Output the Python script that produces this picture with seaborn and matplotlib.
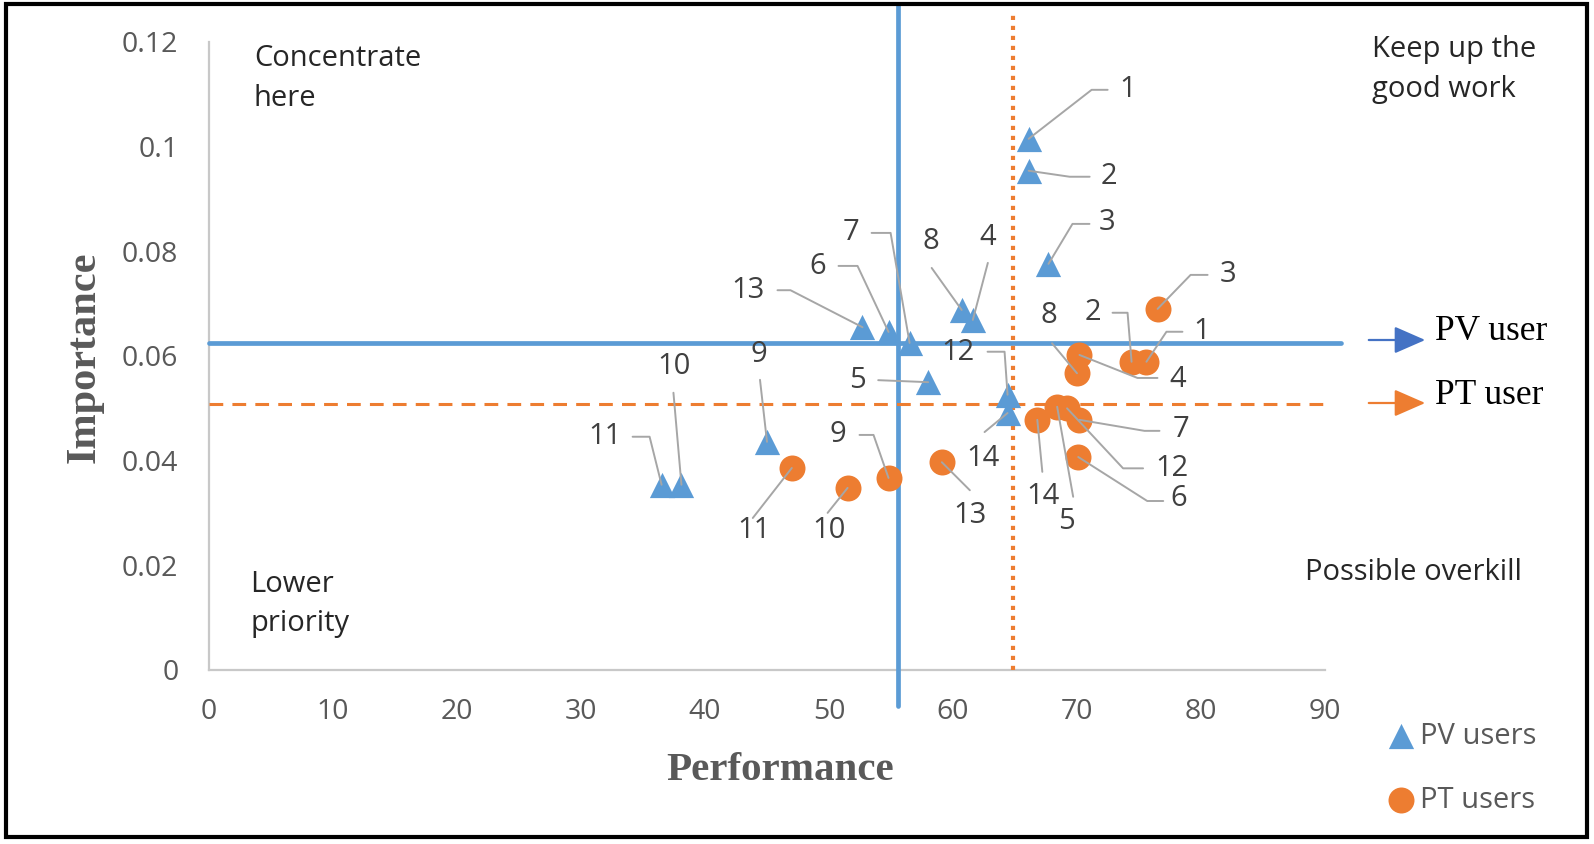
import matplotlib

matplotlib.use("Agg")

import matplotlib.pyplot as plt
import pandas as pd
import seaborn as sns
from matplotlib.patches import Rectangle

# ---- data ------------------------------------------------------------------
item_ids = [1, 2, 3, 4, 5, 6, 7, 8, 9, 10, 11, 12, 13, 14]

pv_performance = [66.1, 66.1, 67.7, 61.6, 58.0, 54.8, 56.5, 60.7, 45.0, 38.1, 36.5, 64.4, 52.7, 64.4]
pv_importance = [0.1015, 0.0954, 0.0776, 0.0669, 0.0550, 0.0646, 0.0625, 0.0688,
                 0.0436, 0.0354, 0.0354, 0.0526, 0.0655, 0.0491]

pt_performance = [75.6, 74.4, 76.5, 70.2, 68.4, 70.1, 70.2, 70.0, 54.8, 51.5, 47.0, 69.2, 59.1, 66.8]
pt_importance = [0.0589, 0.0589, 0.0690, 0.0602, 0.0503, 0.0407, 0.0478, 0.0567,
                 0.0367, 0.0348, 0.0386, 0.0500, 0.0397, 0.0478]

pv_mean_performance = 55.6
pv_mean_importance = 0.0625
pt_mean_performance = 64.8
pt_mean_importance = 0.0508

x_ticks = [0, 10, 20, 30, 40, 50, 60, 70, 80, 90]
y_ticks = [0, 0.02, 0.04, 0.06, 0.08, 0.1, 0.12]
y_tick_labels = ["0", "0.02", "0.04", "0.06", "0.08", "0.1", "0.12"]

# ---- label layout: pixel offsets from the marker (text, elbow, stub end) ---
pv_label_layout = {
    1: ((99, 49), (63, 49), (79, 49)),
    2: ((80, -6), (41, -6), (61, -6)),
    3: ((59, 41), (24, 40), (41, 40)),
    4: ((15, 82), (15, 57), None),
    5: ((-71, 2), (-50, 2), None),
    6: ((-71, 65), (-31, 66), (-50, 66)),
    7: ((-59, 110), (-19, 110), (-38, 110)),
    8: ((-31, 68), (-30, 42), None),
    9: ((-8, 87), (-7, 62), None),
    10: ((-7, 118), (-8, 92), None),
    11: ((-57, 48), (-12, 48), (-29, 48)),
    12: ((-50, 42), (-3, 43), (-20, 43)),
    13: ((-115, 37), (-72, 37), (-85, 37)),
    14: ((-25, -45), (-23, -19), None),
}
pt_label_layout = {
    1: ((55, 30), (20, 30), (36, 30)),
    2: ((-39, 49), (-4, 49), (-19, 49)),
    3: ((70, 34), (33, 34), (50, 34)),
    4: ((98, -25), (58, -23), (78, -23)),
    5: ((9, -115), (16, -90), None),
    6: ((100, -41), (69, -44), (85, -44)),
    7: ((102, -10), (65, -11), (80, -11)),
    8: ((-28, 58), (-25, 30), None),
    9: ((-51, 43), (-15, 43), (-29, 43)),
    10: ((-19, -43), (-20, -25), None),
    11: ((-38, -63), (-39, -50), None),
    12: ((105, -60), (56, -60), (76, -60)),
    13: ((28, -53), (28, -28), None),
    14: ((6, -77), (5, -52), None),
}

BLUE = "#5B9BD5"
ORANGE = "#ED7D31"
GREY_TEXT = "#595959"
W, H = 1594, 844

sns.set_style("white")
plt.rcParams["font.family"] = ["Open Sans", "DejaVu Sans"]

pv = pd.DataFrame({"item": item_ids, "performance": pv_performance, "importance": pv_importance})
pt = pd.DataFrame({"item": item_ids, "performance": pt_performance, "importance": pt_importance})

fig = plt.figure(figsize=(W / 100, H / 100), dpi=100)
ax_left, ax_bottom, ax_w, ax_h = 209, 844 - 670, 1116, 628
ax = fig.add_axes([ax_left / W, ax_bottom / H, ax_w / W, ax_h / H])

sns.scatterplot(data=pv, x="performance", y="importance", marker="^", s=330,
                color=BLUE, linewidth=0, label="PV users", ax=ax, zorder=4, clip_on=False)
sns.scatterplot(data=pt, x="performance", y="importance", marker="o", s=350,
                color=ORANGE, linewidth=0, label="PT users", ax=ax, zorder=4, clip_on=False)

ax.set_xlim(0, 90)
ax.set_ylim(0, 0.12)
ax.set_xticks(x_ticks)
ax.set_yticks(y_ticks)
ax.set_yticklabels(y_tick_labels)
ax.tick_params(axis="both", length=0, labelsize=20.5, colors=GREY_TEXT)
ax.tick_params(axis="x", pad=20)
ax.tick_params(axis="y", pad=22)
ax.set_xlabel("")
ax.set_ylabel("")
for side in ["top", "right"]:
    ax.spines[side].set_visible(False)
for side in ["left", "bottom"]:
    ax.spines[side].set_color("#C8C8C8")
    ax.spines[side].set_linewidth(1.6)

# mean reference lines
ax.axvline(pv_mean_performance, ymin=-0.057, ymax=1.06, color=BLUE, lw=3.4,
           clip_on=False, zorder=3)
ax.axhline(pv_mean_importance, xmin=0, xmax=1.014, color=BLUE, lw=3.4,
           clip_on=False, zorder=3)
ax.axvline(pt_mean_performance, ymin=0, ymax=1.043, color=ORANGE, lw=3.0,
           linestyle=(0, (1, 1.4)), dash_capstyle="butt", clip_on=False, zorder=3)
ax.axhline(pt_mean_importance, xmin=0, xmax=1.003, color=ORANGE, lw=2.2,
           linestyle=(0, (4.5, 3)), dash_capstyle="butt", clip_on=False, zorder=3)

# data labels with leader lines
sx = 90 / ax_w
sy = 0.12 / ax_h


def draw_labels(frame, layout):
    for _, row in frame.iterrows():
        x, y = row["performance"], row["importance"]
        (tdx, tdy), (edx, edy), stub = layout[int(row["item"])]
        xs = [x, x + edx * sx]
        ys = [y, y + edy * sy]
        if stub is not None:
            xs.append(x + stub[0] * sx)
            ys.append(y + stub[1] * sy)
        ax.plot(xs, ys, color="#A6A6A6", lw=1.4, zorder=5, clip_on=False)
        ax.text(x + tdx * sx, y + tdy * sy, str(int(row["item"])), fontsize=21,
                color="#404040", ha="center", va="center", zorder=6)


draw_labels(pv, pv_label_layout)
draw_labels(pt, pt_label_layout)

# legend
leg = ax.legend(loc="upper left", bbox_to_anchor=(1372 / W, 1 - 710 / H),
                bbox_transform=fig.transFigure, frameon=False, fontsize=21,
                handletextpad=0.05, labelspacing=1.2, handlelength=1.2,
                borderaxespad=0)
for t in leg.get_texts():
    t.set_color(GREY_TEXT)

# quadrant captions
quad_kw = dict(fontsize=21, color="#262626", va="center", ha="left", linespacing=1.5)
fig.text(254 / W, 1 - 79 / H, "Concentrate\nhere", **quad_kw)
fig.text(1372 / W, 1 - 70 / H, "Keep up the\ngood work", **quad_kw)
fig.text(250 / W, 1 - 604 / H, "Lower\npriority", **quad_kw)
fig.text(1305 / W, 1 - 572 / H, "Possible overkill", **quad_kw)

# mean line keys on the right
serif = ["Liberation Serif", "DejaVu Serif"]
for label, color, y_arrow, y_text in [("PV user", "#4472C4", 340, 332),
                                       ("PT user", ORANGE, 403, 395)]:
    ax.annotate("", xy=(1428 / W, 1 - y_arrow / H), xytext=(1366 / W, 1 - y_arrow / H),
                xycoords="figure fraction", textcoords="figure fraction",
                arrowprops=dict(arrowstyle="-|>,head_length=0.8,head_width=0.35",
                                color=color, lw=1.6, mutation_scale=24))
    fig.text(1435 / W, 1 - y_text / H, label, family=serif, fontsize=25.5,
             color="black", va="center", ha="left")

# axis titles
fig.text(780 / W, 1 - 770 / H, "Performance", family=serif, fontsize=29.5,
         fontweight="bold", color=GREY_TEXT, ha="center", va="center")
fig.text(85 / W, 1 - 357 / H, "Importance", family=serif, fontsize=30.5,
         fontweight="bold", color=GREY_TEXT, ha="center", va="center", rotation=90)

# outer frame
fig.patches.append(Rectangle((6 / W, 7 / H), 1581 / W, 833 / H, transform=fig.transFigure,
                             fill=False, edgecolor="black", lw=3, zorder=10))

fig.savefig("out.png", dpi=100)
